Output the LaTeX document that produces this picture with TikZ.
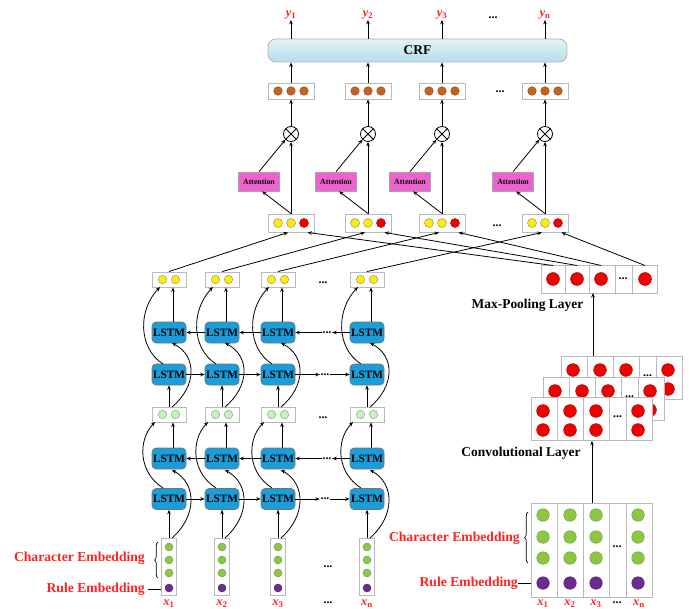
\documentclass[tikz,border=0pt]{standalone}
\usepackage{fontspec}
\setmainfont{Liberation Serif}
\usetikzlibrary{arrows.meta,calc,decorations.pathreplacing}
\definecolor{lstmblue}{HTML}{1B9DD9}
\definecolor{dyellow}{HTML}{FFEE00}
\definecolor{dred}{HTML}{F20000}
\definecolor{dgreen}{HTML}{8DC63F}
\definecolor{dlgreen}{HTML}{C8F0C0}
\definecolor{dpurple}{HTML}{6B2C91}
\definecolor{dbrown}{HTML}{C4631C}
\definecolor{attpink}{HTML}{EE62CF}
\definecolor{crftop}{HTML}{E2F3F8}
\definecolor{crfbot}{HTML}{B5DEEA}
\definecolor{labred}{HTML}{FF2222}
\newcommand\gridlayer[3]{%
  \node[gbox, anchor=north west, minimum width=121bp, minimum height=43bp] (#1) at (#2,#3) {};
  \foreach \dx in {26,52,78,95} \draw[gline] (#2+\dx,#3) -- (#2+\dx,#3+43);
  \foreach \cx in {12,39,65,107} \foreach \ry in {14,33} \filldraw[rdot] (#2+\cx,#3+\ry) circle[radius=6.4bp];
  \node[dots] (#1d) at (#2+86.5,#3+20) {...};
}
\begin{document}
\begin{tikzpicture}[x=1bp,y=-1bp,
  arr/.style={-{Stealth[length=4.5bp,width=3.6bp]}, line width=0.8bp},
  ln/.style={line width=0.8bp},
  gbox/.style={draw=gray!55, fill=white, line width=0.9bp, inner sep=0, rectangle},
  gline/.style={draw=gray!55, line width=0.9bp},
  lstm/.style={rectangle, rounded corners=4bp, fill=lstmblue, draw=black!55, line width=0.6bp, minimum width=34bp, minimum height=21bp, inner sep=0, font=\fontsize{11.3}{12}\selectfont\bfseries},
  att/.style={rectangle, fill=attpink, draw=gray!70, line width=0.6bp, minimum width=41bp, minimum height=19bp, inner sep=0, font=\fontsize{7.8}{8}\selectfont\bfseries},
  otimes/.style={circle, draw, line width=0.8bp, minimum size=15bp, inner sep=0, fill=white},
  ydot/.style={fill=dyellow, draw=black!50, line width=0.4bp},
  rdot/.style={fill=dred, draw=red!60!black, line width=0.4bp},
  gdot/.style={fill=dgreen, draw=green!30!black!60, line width=0.4bp},
  lgdot/.style={fill=dlgreen, draw=green!40!black!60, line width=0.4bp},
  pdot/.style={fill=dpurple, draw=dpurple!70!black, line width=0.4bp},
  bdot/.style={fill=dbrown, draw=dbrown!70!black, line width=0.4bp},
  dots/.style={inner sep=0.5bp, font=\fontsize{12}{12}\selectfont\bfseries},
  lab/.style={inner sep=0, font=\fontsize{13.5}{15}\selectfont\bfseries},
  rlab/.style={inner sep=0, text=labred, font=\fontsize{13.7}{15}\selectfont\bfseries},
  tlab/.style={inner sep=0.5bp, text=labred, font=\fontsize{12.5}{14}\selectfont\bfseries\itshape},
]
\useasboundingbox (0,0) rectangle (691,609);

% ---------- CRF ----------
\node[rectangle, rounded corners=8bp, draw=gray!60, line width=0.8bp, top color=crftop, bottom color=crfbot, minimum width=299bp, minimum height=23bp, inner sep=0, font=\fontsize{13.5}{15}\selectfont\bfseries] (crf) at (417.5,50.5) {CRF};
\node[dots] (ydots) at (493,18) {...};
\node[dots] (bdots) at (500,92) {...};
\node[dots] (ydots2) at (497,226) {...};

\foreach \i/\x/\s in {1/291/1,2/368/2,3/442/3,4/545/n} {
  \node[tlab] (y\i) at (\x,15) {y\textsubscript{\upshape\s}};
  \draw[arr] (crf.north -| y\i) -- (y\i.south);
  \node[gbox, minimum width=46bp, minimum height=16bp] (bb\i) at (\x,91) {};
  \foreach \d in {-13,0,13} \filldraw[bdot] (\x+\d,91) circle[radius=4.3bp];
  \draw[arr] (bb\i.north) -- (bb\i.north |- crf.south);
  \node[otimes] (ot\i) at (\x,134) {};
  \draw[ln] (ot\i.north west) -- (ot\i.south east) (ot\i.north east) -- (ot\i.south west);
  \draw[arr] (ot\i.north) -- (bb\i.south);
  \node[att] (at\i) at (\x-32,181.5) {Attention};
  \node[gbox, minimum width=46bp, minimum height=18bp] (yb\i) at (\x,223) {};
  \filldraw[ydot] (\x-13,223) circle[radius=4.5bp];
  \filldraw[ydot] (\x,223) circle[radius=4.5bp];
  \filldraw[rdot] (\x+13,223) circle[radius=4.5bp];
  \draw[arr] (yb\i.north) -- (ot\i.south);
  \draw[arr] (yb\i.north) -- ($(at\i.south)+(3,0)$);
  \draw[arr] (at\i.north) -- (ot\i.south west);
}

% ---------- BiLSTM columns ----------
\node[dots] (dya) at (323,283) {...};
\node[dots] (dga) at (323,418) {...};
\node[dots] (dem) at (328,567) {...};
\node[dots] (dxl) at (328,603) {...};

\foreach \i/\x/\s in {1/169/1,2/222/2,3/278/3,4/367/n} {
  \node[gbox, minimum width=34bp, minimum height=15bp] (ya\i) at (\x,279.5) {};
  \filldraw[ydot] (\x-6.5,279.5) circle[radius=4.2bp];
  \filldraw[ydot] (\x+6.5,279.5) circle[radius=4.2bp];
  \node[lstm] (b2\i) at (\x,332.5) {LSTM};
  \node[lstm] (f2\i) at (\x,374.5) {LSTM};
  \node[gbox, minimum width=34bp, minimum height=15bp] (ga\i) at (\x,414.5) {};
  \filldraw[lgdot] (\x-6.5,414.5) circle[radius=4.2bp];
  \filldraw[lgdot] (\x+6.5,414.5) circle[radius=4.2bp];
  \node[lstm] (b1\i) at (\x,458.5) {LSTM};
  \node[lstm] (f1\i) at (\x,499) {LSTM};
  \node[gbox, minimum width=15bp, minimum height=57bp] (em\i) at (\x,566.5) {};
  \foreach \yy in {547,560,573} \filldraw[gdot] (\x,\yy) circle[radius=4bp];
  \filldraw[pdot] (\x,588) circle[radius=4bp];
  \node[tlab] (x\i) at (\x,603.5) {x\textsubscript{\upshape\s}};
  % layer 1
  \draw[arr] (em\i.north) -- (f1\i.south);
  \draw[arr] (\x+3,538) .. controls (\x+28,516) and (\x+28,484) .. (\x+3,470);
  \draw[arr] (\x-6,488) .. controls (\x-31,472) and (\x-31,440) .. (\x-14,422);
  \draw[arr] ($(b1\i.north)+(4,0)$) -- ($(ga\i.south)+(4,0)$);
  % layer 2
  \draw[arr] (ga\i.north) -- (f2\i.south);
  \draw[arr] (\x+3,407) .. controls (\x+28,386) and (\x+28,356) .. (\x+3,343);
  \draw[arr] (\x-6,364) .. controls (\x-31,348) and (\x-31,310) .. (\x-9,287);
  \draw[arr] ($(b2\i.north)+(4,0)$) -- ($(ya\i.south)+(4,0)$);
  % to attention inputs
  \draw[arr] (ya\i.north) -- ($(yb\i.south)+(-3,0)$);
}

% horizontal recurrent arrows
\foreach \r/\yy in {1/499,2/374.5} {
  \draw[arr] (f\r1.east) -- (f\r2.west);
  \draw[arr] (f\r2.east) -- (f\r3.west);
  \node[dots] (hf\r) at (325,\yy) {...};
  \draw[arr] (f\r3.east) -- (hf\r.west);
  \draw[arr] (hf\r.east) -- (f\r4.west);
}
\foreach \r/\yy in {1/458.5,2/332.5} {
  \draw[arr] (b\r2.west) -- (b\r1.east);
  \draw[arr] (b\r3.west) -- (b\r2.east);
  \node[dots] (hb\r) at (327,\yy) {...};
  \draw[arr] (b\r4.west) -- (hb\r.east);
  \draw[arr] (hb\r.west) -- (b\r3.east);
}

% ---------- CNN branch ----------
\node[gbox, minimum width=116bp, minimum height=28bp] (mp) at (599,279) {};
\foreach \dx in {565,589,615,632} \draw[gline] (\dx,265) -- (\dx,293);
\foreach \cx in {553,577,601,645} \filldraw[rdot] (\cx,279) circle[radius=6.5bp];
\node[dots] (mpd) at (623,279) {...};
\node[lab] (mpl) at (527.5,305) {Max-Pooling Layer};

\foreach \i/\cx in {1/553,2/577,3/601,4/645} {
  \coordinate (mc\i) at (\cx,265.5);
  \draw[arr] (mc\i) -- ($(yb\i.south east)+(-7,0)$);
}

\gridlayer{cback}{561}{356}
\gridlayer{cmid}{543}{377}
\gridlayer{cfront}{531}{397}
\node[lab] (cvl) at (521,453) {Convolutional Layer};
\coordinate (mpin) at (593,293);
\draw[arr] (mpin |- cback.north) -- (mpin);

% embedding matrix
\node[gbox, anchor=north west, minimum width=121bp, minimum height=94bp] (emb) at (531,503) {};
\foreach \dx in {557,583,609,626} \draw[gline] (\dx,503) -- (\dx,597);
\foreach \cx in {543,570,596,638} {
  \foreach \yy in {515,537,558} \filldraw[gdot] (\cx,\yy) circle[radius=6.3bp];
  \filldraw[pdot] (\cx,583) circle[radius=6.3bp];
}
\node[dots] (embd) at (617,547) {...};
\draw[arr] (emb.north) -- (cfront.south);
\foreach \i/\cx/\s in {1/543/1,2/570/2,3/596/3,4/639/n}
  \node[tlab] (rx\i) at (\cx,603.5) {x\textsubscript{\upshape\s}};
\node[dots] (rxd) at (617,603) {...};

% ---------- labels ----------
\node[rlab, anchor=east] (ce1) at (145,558) {Character Embedding};
\node[rlab, anchor=east] (re1) at (145,589) {Rule Embedding};
\draw[line width=0.7bp, decorate, decoration={brace, amplitude=3.5bp}] (158,578) -- (158,542);
\draw[line width=0.9bp] (re1.east) ++(3,0) -- (em1.west |- re1.east);

\node[rlab, anchor=east] (ce2) at (520,538) {Character Embedding};
\node[rlab, anchor=east] (re2) at (518,583) {Rule Embedding};
\draw[line width=0.7bp, decorate, decoration={brace, amplitude=3.5bp}] (528,563) -- (528,512);
\draw[line width=0.9bp] (re2.east) -- (emb.west |- re2.east);
\end{tikzpicture}
\end{document}
